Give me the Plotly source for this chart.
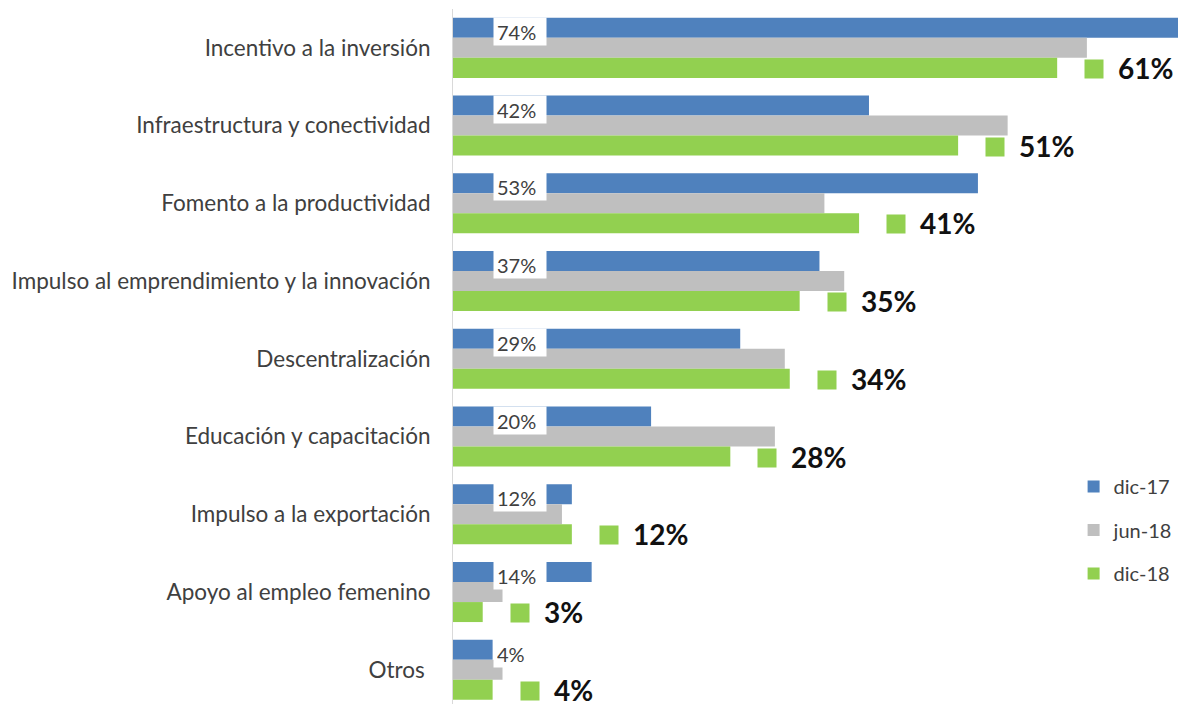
import plotly.graph_objects as go

categories = [
    "Incentivo a la inversión",
    "Infraestructura y conectividad",
    "Fomento a la productividad",
    "Impulso al emprendimiento y la innovación",
    "Descentralización",
    "Educación y capacitación",
    "Impulso a la exportación",
    "Apoyo al empleo femenino",
    "Otros ",
]
series_names = ["dic-17", "jun-18", "dic-18"]
dic17 = [74, 42, 53, 37, 29, 20, 12, 14, 4]
jun18 = [64, 56, 37.5, 39.5, 33.5, 32.5, 11, 5, 5]
dic18 = [61, 51, 41, 35, 34, 28, 12, 3, 4]

colors = ["#4F81BD", "#BFBFBF", "#92D050"]
FONT = "Lato"
TXT = "#404040"

fig = go.Figure()
for i, (name, vals) in enumerate(zip(series_names, [dic17, jun18, dic18])):
    fig.add_trace(go.Bar(
        y=categories, x=vals, name=name, orientation="h",
        marker=dict(color=colors[i], line=dict(width=0)),
        legendgroup=name, hoverinfo="skip",
    ))

annotations = []
for cat, v in zip(categories, dic17):
    annotations.append(dict(
        x=4.0, y=cat, xref="x", yref="y", text=f"{v}%", showarrow=False,
        xanchor="left", yanchor="middle", align="left", width=46, height=21,
        borderpad=3, bgcolor="white", yshift=16.5,
        font=dict(family=FONT, size=20, color=TXT),
    ))
for cat, v in zip(categories, dic18):
    annotations.append(dict(
        x=v, y=cat, xref="x", yref="y", text=" ", showarrow=False,
        xanchor="left", yanchor="middle", width=18, height=18, borderpad=0,
        bgcolor=colors[2], xshift=27, yshift=-21,
        font=dict(family=FONT, size=8, color=colors[2]),
    ))
    annotations.append(dict(
        x=v, y=cat, xref="x", yref="y", text=f"<b>{v}%</b>", showarrow=False,
        xanchor="left", yanchor="middle", xshift=59, yshift=-20,
        font=dict(family=FONT, size=28, color="#111111"),
    ))

fig.update_layout(
    width=1178, height=704,
    margin=dict(l=453, r=0, t=9, b=0, autoexpand=False),
    paper_bgcolor="white", plot_bgcolor="white",
    barmode="group", bargap=0.228, bargroupgap=0,
    font=dict(family=FONT, color=TXT),
    showlegend=True,
    legend=dict(
        x=0.856, y=0.341, xanchor="left", yanchor="top",
        traceorder="grouped", tracegroupgap=14.5,
        font=dict(family=FONT, size=20, color=TXT),
        bgcolor="rgba(0,0,0,0)",
    ),
    annotations=annotations,
)
fig.update_xaxes(range=[0, 73.2], visible=False, fixedrange=True)
fig.update_yaxes(
    type="category", range=[8.44, -0.5], automargin=False,
    showline=True, linecolor="#D9D9D9", linewidth=1,
    ticks="", ticklabelstandoff=17, showgrid=False, fixedrange=True,
    tickfont=dict(family=FONT, size=22.5, color=TXT),
)

fig.write_html(
    "out.html",
    config={"displayModeBar": False},
    post_script="document.body.style.margin='0';document.body.style.overflow='hidden';",
)
